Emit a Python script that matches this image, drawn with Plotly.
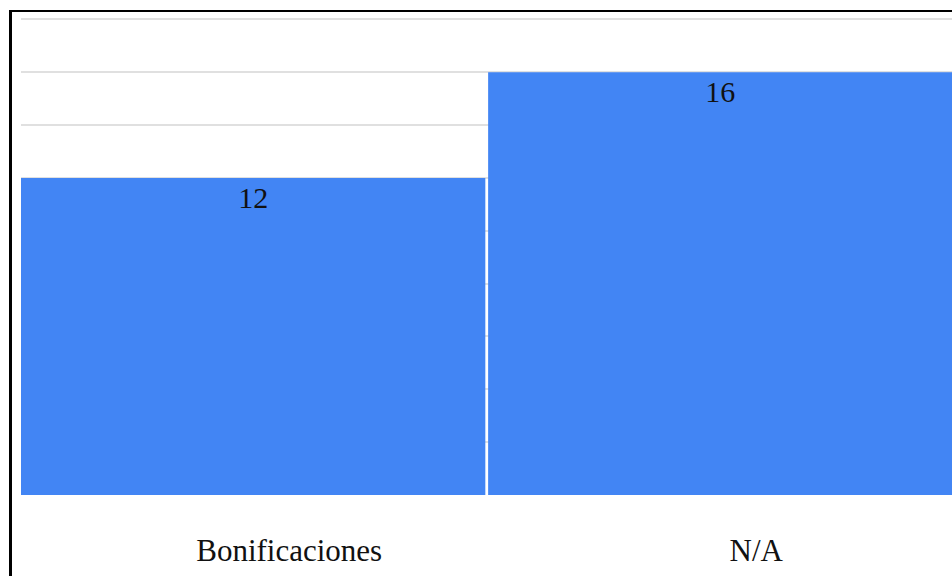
import plotly.graph_objects as go

# Chart data
categories = ["Bonificaciones", "N/A"]
counts = [12, 16]
y_max = 18
y_step = 2

W, H = 952, 576
ML, MR, MT, MB = 21, 0, 18, 81
PW, PH = W - ML - MR, H - MT - MB

BLUE = "#4285F4"
FONT = "Liberation Serif, Times New Roman, serif"

fig = go.Figure(
    go.Bar(
        x=categories,
        y=counts,
        marker=dict(color=BLUE, line=dict(width=0)),
        text=counts,
        textposition="inside",
        insidetextanchor="end",
        insidetextfont=dict(family=FONT, size=30, color="#111111"),
        hoverinfo="skip",
    )
)


def px_x(px):
    return (px - ML) / PW


def px_y(py):
    return (H - MB - py) / PH


# Frame lines along the left and top edges
fig.add_shape(type="line", xref="paper", yref="paper",
              x0=px_x(10.5), x1=px_x(10.5), y0=px_y(H + 2), y1=px_y(10),
              line=dict(color="#000000", width=3))
fig.add_shape(type="line", xref="paper", yref="paper",
              x0=px_x(9), x1=px_x(W + 2), y0=px_y(11), y1=px_y(11),
              line=dict(color="#000000", width=2))

fig.update_layout(
    width=W,
    height=H,
    margin=dict(l=ML, r=MR, t=MT, b=MB, pad=0),
    paper_bgcolor="#ffffff",
    plot_bgcolor="#ffffff",
    bargap=0.006,
    showlegend=False,
    font=dict(family=FONT, color="#111111"),
    xaxis=dict(
        range=[-0.497, 1.496],
        showgrid=False,
        showline=False,
        ticks="",
        tickfont=dict(family=FONT, size=31, color="#111111"),
        ticklabelshift=36,
        ticklabelstandoff=34,
    ),
    yaxis=dict(
        range=[0, y_max + 0.05],
        dtick=y_step,
        showgrid=True,
        gridcolor="#e0e0e0",
        gridwidth=2,
        zeroline=False,
        showticklabels=False,
        ticks="",
    ),
)

fig.write_html("out.html")
